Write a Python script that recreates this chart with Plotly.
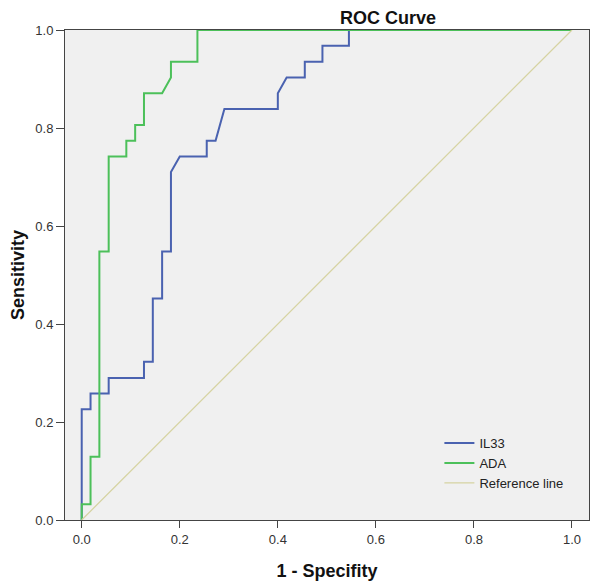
import plotly.graph_objects as go

# IL33 ROC curve (1 - specificity, sensitivity)
il33_fpr = [0, 0, 0.018, 0.018, 0.055, 0.055, 0.127, 0.127, 0.145, 0.145,
            0.164, 0.164, 0.182, 0.182, 0.2, 0.255, 0.255, 0.273, 0.291, 0.4,
            0.4, 0.418, 0.455, 0.455, 0.491, 0.491, 0.545, 0.545, 1.0]
il33_tpr = [0, 0.226, 0.226, 0.258, 0.258, 0.290, 0.290, 0.323, 0.323, 0.452,
            0.452, 0.548, 0.548, 0.710, 0.742, 0.742, 0.774, 0.774, 0.839, 0.839,
            0.871, 0.903, 0.903, 0.935, 0.935, 0.968, 0.968, 1.0, 1.0]

# ADA ROC curve
ada_fpr = [0, 0, 0.018, 0.018, 0.036, 0.036, 0.055, 0.055, 0.091, 0.091,
           0.109, 0.109, 0.127, 0.127, 0.164, 0.182, 0.182, 0.236, 0.236, 1.0]
ada_tpr = [0, 0.032, 0.032, 0.129, 0.129, 0.548, 0.548, 0.742, 0.742, 0.774,
           0.774, 0.806, 0.806, 0.871, 0.871, 0.903, 0.935, 0.935, 1.0, 1.0]

# Reference (chance) line
ref_x = [0, 1]
ref_y = [0, 1]

tick_vals = [0, 0.2, 0.4, 0.6, 0.8, 1.0]
tick_text = ["0.0", "0.2", "0.4", "0.6", "0.8", "1.0"]

FONT = "Liberation Sans, Arial, sans-serif"

fig = go.Figure()
fig.add_trace(go.Scatter(x=il33_fpr, y=il33_tpr, mode="lines", name="IL33",
                         line=dict(color="#4a62b0", width=2)))
fig.add_trace(go.Scatter(x=ada_fpr, y=ada_tpr, mode="lines", name="ADA",
                         line=dict(color="#4cc05a", width=2)))
fig.add_trace(go.Scatter(x=ref_x, y=ref_y, mode="lines", name="Reference line",
                         line=dict(color="#d6d3a2", width=1.3)))

# the page body adds an 8px offset, so margins are compensated
fig.update_layout(
    width=600, height=587,
    margin=dict(l=57, r=19, t=22, b=75, autoexpand=False),
    paper_bgcolor="white",
    plot_bgcolor="#f0f0f0",
    font=dict(family=FONT, size=13, color="#333333"),
    title=dict(text="<b>ROC Curve</b>", x=380/600, xanchor="center",
               xref="container", y=1 - 10/587, yanchor="middle", yref="container",
               font=dict(family=FONT, size=18, color="#111111")),
    showlegend=True,
    legend=dict(x=0.7145, y=0.1875, xanchor="left", yanchor="top",
                bgcolor="rgba(0,0,0,0)", borderwidth=0,
                font=dict(family=FONT, size=13, color="#222222"),
                tracegroupgap=0, itemwidth=30),
)

fig.update_xaxes(
    range=[-0.0341, 1.0347], tickvals=tick_vals, ticktext=tick_text,
    showgrid=False, zeroline=False, automargin=False,
    showline=True, linecolor="#444444", linewidth=1, mirror=True,
    ticks="outside", ticklen=7, tickcolor="#444444",
    title=dict(text="<b>1 - Specifity</b>", standoff=18,
               font=dict(family=FONT, size=18, color="#111111")),
)
fig.update_yaxes(
    range=[0, 1.0], tickvals=tick_vals, ticktext=tick_text,
    showgrid=False, zeroline=False, automargin=False,
    showline=True, linecolor="#444444", linewidth=1, mirror=True,
    ticks="outside", ticklen=8, tickcolor="#444444",
    title=dict(text="<b>Sensitivity</b>", standoff=9,
               font=dict(family=FONT, size=18, color="#111111")),
)

fig.write_html("out.html")
